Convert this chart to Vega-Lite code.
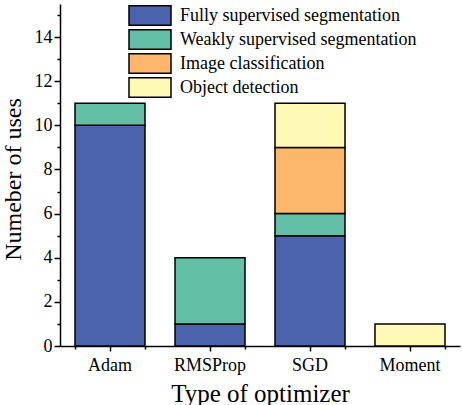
{
  "$schema": "https://vega.github.io/schema/vega-lite/v6.json",
  "width": 400,
  "height": 342,
  "autosize": "none",
  "padding": {"left": 60, "top": 4, "right": 2, "bottom": 59},
  "config": {
    "view": {"stroke": null},
    "font": "Liberation Serif",
    "axis": {
      "grid": false,
      "domainColor": "black",
      "domainWidth": 1.5,
      "tickColor": "black",
      "tickWidth": 1.5,
      "labelColor": "black",
      "labelFont": "Liberation Serif",
      "labelFontSize": 18,
      "titleFont": "Liberation Serif",
      "titleFontSize": 24,
      "titleFontWeight": "normal",
      "titleColor": "black"
    }
  },
  "data": {
    "values": [
      {"Optimizer": "Adam", "Task": "Fully supervised segmentation", "rank": 1, "Uses": 10},
      {"Optimizer": "Adam", "Task": "Weakly supervised segmentation", "rank": 2, "Uses": 1},
      {"Optimizer": "RMSProp", "Task": "Fully supervised segmentation", "rank": 1, "Uses": 1},
      {"Optimizer": "RMSProp", "Task": "Weakly supervised segmentation", "rank": 2, "Uses": 3},
      {"Optimizer": "SGD", "Task": "Fully supervised segmentation", "rank": 1, "Uses": 5},
      {"Optimizer": "SGD", "Task": "Weakly supervised segmentation", "rank": 2, "Uses": 1},
      {"Optimizer": "SGD", "Task": "Image classification", "rank": 3, "Uses": 3},
      {"Optimizer": "SGD", "Task": "Object detection", "rank": 4, "Uses": 2},
      {"Optimizer": "Moment", "Task": "Object detection", "rank": 4, "Uses": 1}
    ]
  },
  "layer": [
    {
      "mark": {"type": "bar", "stroke": "black", "strokeWidth": 1.5, "opacity": 1},
      "encoding": {
        "x": {
          "field": "Optimizer",
          "type": "nominal",
          "sort": ["Adam", "RMSProp", "SGD", "Moment"],
          "scale": {"paddingInner": 0.3, "paddingOuter": 0.15},
          "axis": {
            "orient": "bottom",
            "title": "Type of optimizer",
            "titleFontSize": 25,
            "labelAngle": 0,
            "tickSize": 5,
            "labelPadding": 5,
            "titlePadding": 7
          }
        },
        "y": {
          "field": "Uses",
          "type": "quantitative",
          "stack": "zero",
          "scale": {"domain": [0, 15.5], "nice": false, "zero": true},
          "axis": {
            "title": "Numeber of uses",
            "values": [0, 1, 2, 3, 4, 5, 6, 7, 8, 9, 10, 11, 12, 13, 14, 15],
            "labelExpr": "datum.value % 2 == 0 ? datum.label : ''",
            "tickSize": {"condition": {"test": "datum.value % 2 == 0", "value": 6}, "value": 3},
            "labelPadding": 2,
            "titlePadding": 9,
            "titleY": 175
          }
        },
        "color": {
          "field": "Task",
          "type": "nominal",
          "scale": {
            "domain": ["Fully supervised segmentation", "Weakly supervised segmentation", "Image classification", "Object detection"],
            "range": ["#4A63AC", "#63BFA5", "#FDB76A", "#FFF9B6"]
          },
          "legend": {
            "orient": "none",
            "legendX": 79,
            "legendY": 0.5,
            "title": null,
            "padding": 0,
            "symbolType": "M-2.1,-0.97H2.1V0.97H-2.1Z",
            "symbolSize": 400,
            "symbolStrokeColor": "black",
            "symbolStrokeWidth": 1.5,
            "symbolOpacity": 1,
            "labelFont": "Liberation Serif",
            "labelFontSize": 18,
            "labelColor": "black",
            "labelOffset": 19,
            "rowPadding": -2,
            "labelLimit": 400
          }
        },
        "order": {"field": "rank", "type": "quantitative"}
      }
    },
    {
      "mark": {"type": "bar", "opacity": 0},
      "encoding": {
        "x": {
          "field": "Optimizer",
          "type": "nominal",
          "sort": ["Adam", "RMSProp", "SGD", "Moment"],
          "scale": {"paddingInner": 0.3, "paddingOuter": 0.15},
          "axis": {
            "orient": "bottom",
            "title": null,
            "labels": false,
            "domain": false,
            "tickBand": "extent",
            "tickSize": 3
          }
        }
      }
    }
  ],
  "resolve": {"scale": {"x": "independent"}}
}
